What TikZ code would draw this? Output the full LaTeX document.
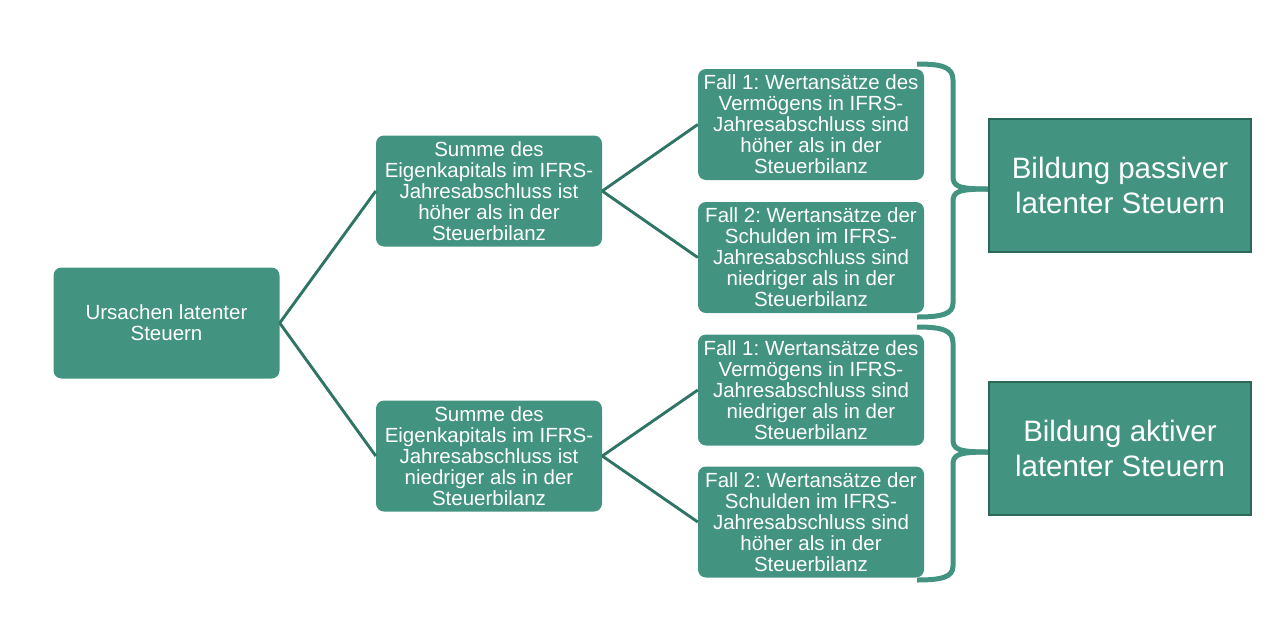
\documentclass[tikz,border=0pt]{standalone}
\usepackage{fontspec}
\setmainfont{Liberation Sans}
\frenchspacing
\definecolor{boxfill}{RGB}{66,147,127}
\definecolor{linecol}{RGB}{47,117,101}
\definecolor{bordercol}{RGB}{42,104,89}
\begin{document}
\begin{tikzpicture}[x=1pt,y=-1pt,
  smallbox/.style={fill=boxfill,draw=none,rounded corners=8pt,text=white,align=center,
    minimum width=226pt,minimum height=111pt,inner sep=0pt,
    font=\fontsize{20.5pt}{21pt}\selectfont},
  bigbox/.style={fill=boxfill,draw=bordercol,line width=2.2pt,text=white,align=center,
    minimum width=262pt,minimum height=133pt,inner sep=0pt,
    font=\fontsize{29.5pt}{35pt}\selectfont},
  conn/.style={draw=linecol,line width=2.9pt},
  bracecol/.style={draw=boxfill,line width=5pt,line cap=butt}]
\useasboundingbox (0,0) rectangle (1274,630);

\node[smallbox] (A) at (166.5,323) {Ursachen latenter\\Steuern};
\node[smallbox] (B1) at (489,191) {Summe des\\Eigenkapitals im IFRS-\\Jahresabschluss ist\\höher als in der\\Steuerbilanz};
\node[smallbox] (B2) at (489,456) {Summe des\\Eigenkapitals im IFRS-\\Jahresabschluss ist\\niedriger als in der\\Steuerbilanz};
\node[smallbox] (C1) at (811,124.5) {Fall 1: Wertansätze des\\Vermögens in IFRS-\\Jahresabschluss sind\\höher als in der\\Steuerbilanz};
\node[smallbox] (C2) at (811,257.5) {Fall 2: Wertansätze der\\Schulden im IFRS-\\Jahresabschluss sind\\niedriger als in der\\Steuerbilanz};
\node[smallbox] (C3) at (811,390) {Fall 1: Wertansätze des\\Vermögens in IFRS-\\Jahresabschluss sind\\niedriger als in der\\Steuerbilanz};
\node[smallbox] (C4) at (811,522) {Fall 2: Wertansätze der\\Schulden im IFRS-\\Jahresabschluss sind\\höher als in der\\Steuerbilanz};
\node[bigbox] (D1) at (1120,185.5) {Bildung passiver\\latenter Steuern};
\node[bigbox] (D2) at (1120,448.5) {Bildung aktiver\\latenter Steuern};

\draw[conn] (A.east) -- (B1.west);
\draw[conn] (A.east) -- (B2.west);
\draw[conn] (B1.east) -- (C1.west);
\draw[conn] (B1.east) -- (C2.west);
\draw[conn] (B2.east) -- (C3.west);
\draw[conn] (B2.east) -- (C4.west);

% braces
\coordinate (u1) at (917,64);
\coordinate (u2) at (917,317);
\coordinate (ut) at (D1.west |- 0,189);
\draw[bracecol] (u1) .. controls (942,64) and (953,67) .. (953,80) -- (953,176)
  .. controls (953,186) and (957,189) .. (ut);
\draw[bracecol] (u2) .. controls (942,317) and (953,314) .. (953,303) -- (953,202)
  .. controls (953,192) and (957,189) .. (ut);
\coordinate (l1) at (917,327);
\coordinate (l2) at (917,580);
\coordinate (lt) at (D2.west |- 0,452);
\draw[bracecol] (l1) .. controls (942,327) and (953,330) .. (953,343) -- (953,439)
  .. controls (953,449) and (957,452) .. (lt);
\draw[bracecol] (l2) .. controls (942,580) and (953,577) .. (953,566) -- (953,465)
  .. controls (953,455) and (957,452) .. (lt);
\end{tikzpicture}
\end{document}
